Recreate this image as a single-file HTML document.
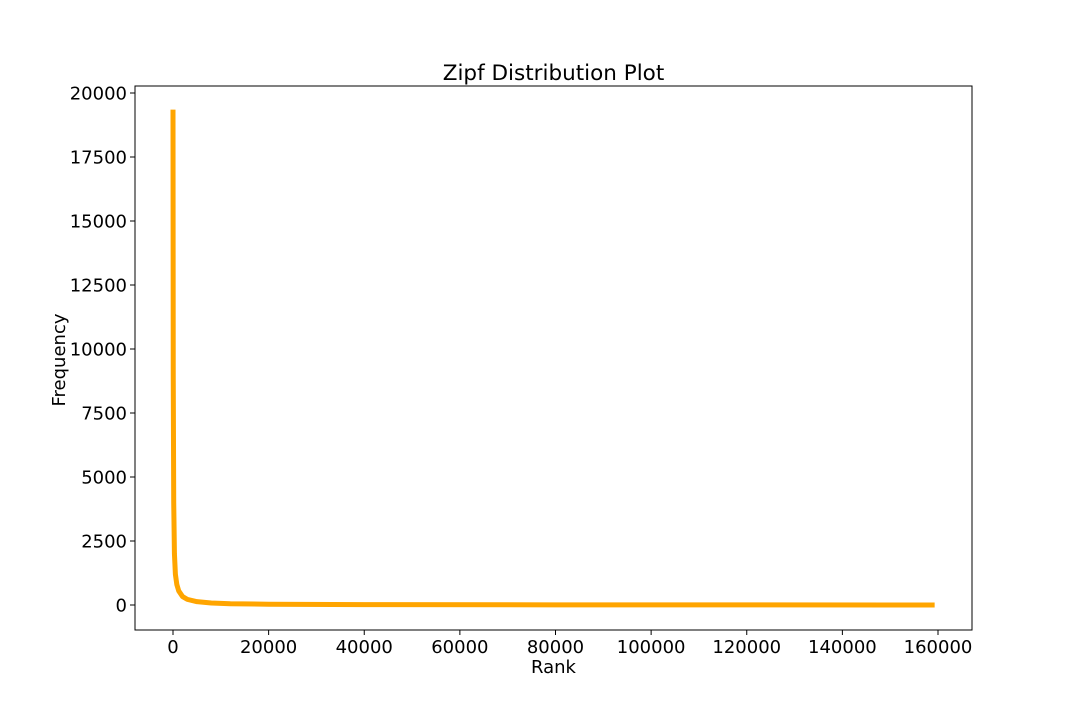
<!DOCTYPE html>
<html><head><meta charset="utf-8"><style>
body{margin:0;background:#fff;}
svg text{font-family:"DejaVu Sans","Liberation Sans",sans-serif;fill:#000;}
</style></head><body>
<svg id="chart" width="1080" height="720" xmlns="http://www.w3.org/2000/svg">
<rect width="1080" height="720" fill="#fff"/>
<text x="553.5" y="80" font-size="21.5" text-anchor="middle">Zipf Distribution Plot</text>
<text x="553.5" y="673" font-size="18" text-anchor="middle">Rank</text>
<text x="65" y="360" font-size="18" text-anchor="middle" transform="rotate(-90 65 360)">Frequency</text>
<g id="ticks"></g>
<path id="line" fill="none" stroke="#FFA500" stroke-width="5" stroke-linejoin="round"/>
<rect x="135" y="86" width="837" height="544" fill="none" stroke="#000" stroke-width="1"/>
</svg>
<script>
const ranks=[1,50,150,300,500,800,1200,2000,3000,5000,8000,12000,20000,40000,80000,159300];
const freqs=[19350,9000,4000,2000,1200,800,550,330,220,130,80,50,30,15,6,1];
const xTicks=[0,20000,40000,60000,80000,100000,120000,140000,160000];
const yTicks=[0,2500,5000,7500,10000,12500,15000,17500,20000];
const X=v=>173+v*(938-173)/160000;
const Y=v=>605-v*(605-93)/20000;
const ns="http://www.w3.org/2000/svg";
const g=document.getElementById('ticks');
function add(tag,attrs,txt){const e=document.createElementNS(ns,tag);for(const k in attrs)e.setAttribute(k,attrs[k]);if(txt!==undefined)e.textContent=txt;g.appendChild(e);return e;}
xTicks.forEach(t=>{
 const l=add('line',{x1:X(t),x2:X(t),y1:630,y2:635,stroke:'#000'});
 
 
 const s=add('text',{x:X(t),y:653,'font-size':18,'text-anchor':'middle'},t);
 
 
});
yTicks.forEach(t=>{
 const l=add('line',{x1:130,x2:135,y1:Y(t),y2:Y(t),stroke:'#000'});
 
 
 const s=add('text',{x:127,y:Y(t)+6.5,'font-size':18,'text-anchor':'end'},t);
 
 
});
document.getElementById('line').setAttribute('d',ranks.map((r,i)=>(i?'L':'M')+X(r).toFixed(2)+','+Y(freqs[i]).toFixed(2)).join(''));
</script>
</body></html>
